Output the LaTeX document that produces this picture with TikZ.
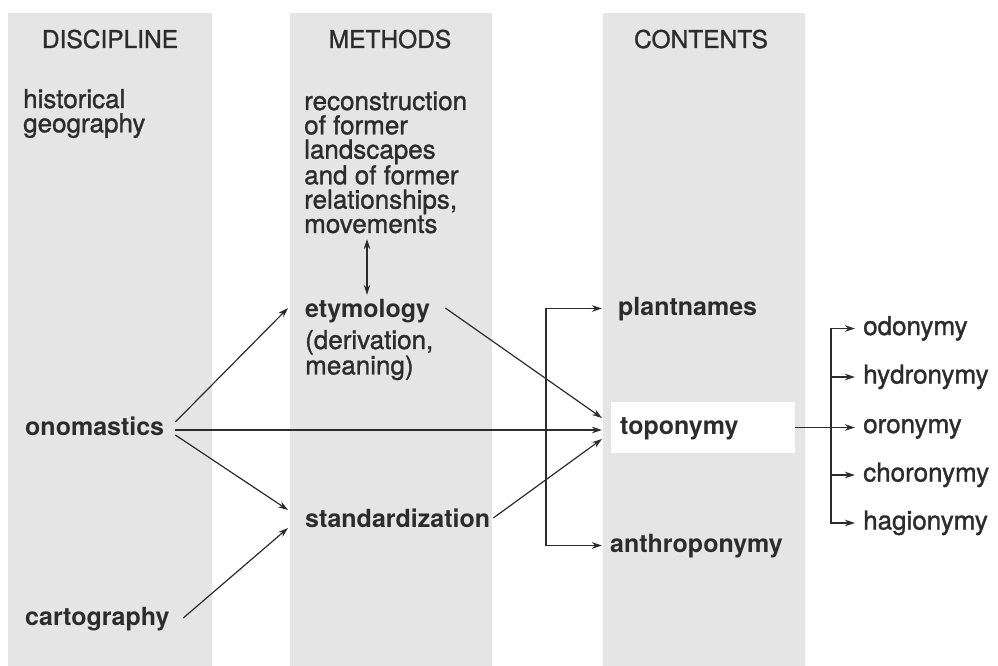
\documentclass[tikz,border=0pt]{standalone}
\usepackage{fontspec}
\setmainfont{TeX Gyre Heros}
\newfontfamily\regfont[FakeBold=1.2]{TeX Gyre Heros}
\usetikzlibrary{arrows.meta,calc}
\definecolor{colgray}{HTML}{E5E5E5}
\definecolor{ink}{HTML}{2C2C2C}
\begin{document}
\begin{tikzpicture}[x=1pt,y=-1pt,
  colbg/.style={fill=colgray,draw=none},
  hdr/.style={font=\regfont\fontsize{24.5}{24}\selectfont,text=ink,inner sep=0pt,anchor=base},
  reg/.style={font=\regfont\fontsize{26}{24.3}\selectfont,text=ink,inner sep=0pt,anchor=base west},
  bld/.style={font=\fontsize{25}{24.3}\selectfont\bfseries,text=ink,inner sep=0pt,text height=18pt,text depth=5pt,anchor=base west},
  item/.style={font=\regfont\fontsize{26}{24.3}\selectfont,text=ink,inner ysep=0pt,inner xsep=8pt,text height=18pt,text depth=5pt,anchor=base west},
  arr/.style={draw=ink,line width=1.2pt,-{Stealth[length=10pt,width=6.5pt]}},
  arrb/.style={draw=ink,line width=1.2pt,{Stealth[length=10pt,width=6.5pt]}-{Stealth[length=10pt,width=6.5pt]}},
  ]
\useasboundingbox (0,0) rectangle (998,666);
\fill[white] (0,0) rectangle (998,666);
% columns
\fill[colbg] (8,13) rectangle (212,666);
\fill[colbg] (290,13) rectangle (492,666);
\fill[colbg] (603,13) rectangle (805,666);
% headers
\node[hdr] (h1) at (110,48) {DISCIPLINE};
\node[hdr] (h2) at (390,48) {METHODS};
\node[hdr] (h3) at (701,48) {CONTENTS};
% discipline
\node[reg] (hist) at (23,108) {\parbox[t]{180pt}{historical\\geography}};
\node[bld] (ono) at (25,435) {onomastics};
\node[bld] (cart) at (25,625) {cartography};
% methods
\node[reg] (recon) at (304,110) {\parbox[t]{185pt}{reconstruction\\of former\\landscapes\\and of former\\relationships,\\movements}};
\node[bld] (ety) at (305,317) {etymology};
\node[reg] (deriv) at (305,349) {\parbox[t]{185pt}{(derivation,\\meaning)}};
\node[bld] (std) at (305,527) {standardization};
% contents
\node[bld,inner xsep=16pt] (plant) at (602,315) {plantnames};
\node[bld,anchor=west,fill=white,minimum height=51pt,text width=166pt,inner xsep=9pt] (topo) at (611,427.5) {toponymy};
\node[bld,inner xsep=8pt] (anthro) at (602,552) {anthroponymy};
% right list
\node[item] (odo) at (855,335) {odonymy};
\node[item] (hyd) at (855,383.5) {hydronymy};
\node[item] (oro) at (855,433) {oronymy};
\node[item] (cho) at (855,481.5) {choronymy};
\node[item] (hag) at (855,529.5) {hagionymy};
% helper coordinates
\coordinate (dx) at (367,0);
\coordinate (bx) at (546,0);
\coordinate (rx) at (831,0);
% connectors
\draw[arrb] ($(recon.south -| dx)+(0,5.5)$) -- ($(ety.north -| dx)+(0,-4)$);
\draw[arr] ([xshift=11pt,yshift=6.5pt]ono.east) -- ([xshift=-17pt,yshift=2.5pt]ety.west);
\draw[arr] ([xshift=11pt,yshift=-1.5pt]ono.east) -- ([xshift=-9pt,yshift=-2.5pt]topo.west);
\draw[arr] ([xshift=11pt,yshift=-6.5pt]ono.east) -- ([xshift=-17pt,yshift=10.5pt]std.west);
\draw[arr] ([xshift=13.5pt,yshift=0.5pt]cart.east) -- ([xshift=-17pt,yshift=-7.5pt]std.west);
\draw[arr] ([xshift=15pt,yshift=2.5pt]ety.east) -- ([xshift=-9pt,yshift=9.5pt]topo.west);
\draw[arr] ([xshift=3pt,yshift=2.5pt]std.east) -- ([xshift=-9pt,yshift=-11.5pt]topo.west);
\draw[arrb] (plant.west) -- (plant.west -| bx) -- (anthro.west -| bx) -- (anthro.west);
\draw[arr] (topo.east) -- (topo.east -| oro.west);
\draw[arrb] (odo.west) -- (odo.west -| rx) -- (hag.west -| rx) -- (hag.west);
\draw[arr] (hyd.west -| rx) -- (hyd.west);
\draw[arr] (cho.west -| rx) -- (cho.west);
\end{tikzpicture}
\end{document}
